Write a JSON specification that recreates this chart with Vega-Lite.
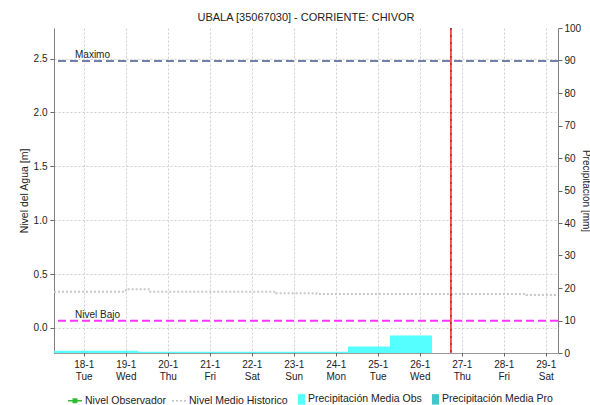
{
  "$schema": "https://vega.github.io/schema/vega-lite/v6.json",
  "width": 504,
  "height": 325,
  "autosize": {"type": "none"},
  "padding": {"left": 54, "top": 28, "right": 32, "bottom": 52},
  "background": "white",
  "title": {"text": "UBALA [35067030] - CORRIENTE: CHIVOR", "fontSize": 11, "fontWeight": "normal", "font": "Liberation Sans", "color": "#222", "offset": 0, "anchor": "middle"},
  "config": {
    "view": {"stroke": null},
    "font": "Liberation Sans",
    "axis": {"labelFont": "Liberation Sans", "titleFont": "Liberation Sans", "labelColor": "#222", "titleColor": "#222", "labelFontSize": 10, "titleFontSize": 10.5, "titleFontWeight": "normal", "gridColor": "#cfcfcf", "gridDash": [2, 2], "gridWidth": 1, "tickColor": "#666", "domainColor": "#808080", "tickSize": 4}
  },
  "datasets": {
    "precip": [
      {"inicio": "2022-01-17T07:00", "fin": "2022-01-18T07:00", "precip": 0.7, "serie": "Precipitación Media Obs"},
      {"inicio": "2022-01-18T07:00", "fin": "2022-01-19T07:00", "precip": 0.7, "serie": "Precipitación Media Obs"},
      {"inicio": "2022-01-19T07:00", "fin": "2022-01-20T07:00", "precip": 0.4, "serie": "Precipitación Media Obs"},
      {"inicio": "2022-01-20T07:00", "fin": "2022-01-21T07:00", "precip": 0.4, "serie": "Precipitación Media Obs"},
      {"inicio": "2022-01-21T07:00", "fin": "2022-01-22T07:00", "precip": 0.4, "serie": "Precipitación Media Obs"},
      {"inicio": "2022-01-22T07:00", "fin": "2022-01-23T07:00", "precip": 0.4, "serie": "Precipitación Media Obs"},
      {"inicio": "2022-01-23T07:00", "fin": "2022-01-24T07:00", "precip": 0.4, "serie": "Precipitación Media Obs"},
      {"inicio": "2022-01-24T07:00", "fin": "2022-01-25T07:00", "precip": 2.0, "serie": "Precipitación Media Obs"},
      {"inicio": "2022-01-25T07:00", "fin": "2022-01-26T07:00", "precip": 5.4, "serie": "Precipitación Media Obs"}
    ],
    "historico": [
      {"fecha": "2022-01-17T07:00", "nivel": 0.337},
      {"fecha": "2022-01-19T00:00", "nivel": 0.359},
      {"fecha": "2022-01-19T14:00", "nivel": 0.337},
      {"fecha": "2022-01-22T14:00", "nivel": 0.322},
      {"fecha": "2022-01-23T13:00", "nivel": 0.315},
      {"fecha": "2022-01-28T13:00", "nivel": 0.306},
      {"fecha": "2022-01-29T07:00", "nivel": 0.306}
    ],
    "umbrales": [
      {"nombre": "Maximo", "fecha": "2022-01-17T19:00", "nivel": 2.477},
      {"nombre": "Nivel Bajo", "fecha": "2022-01-17T19:00", "nivel": 0.068}
    ],
    "ahora": [
      {"fecha": "2022-01-26T17:50"}
    ]
  },
  "resolve": {"scale": {"y": "independent"}},
  "layer": [
    {
      "data": {"name": "precip"},
      "mark": {"type": "rect"},
      "encoding": {
        "x": {
          "field": "inicio", "type": "temporal",
          "scale": {"domain": [{"year": 2022, "month": 1, "date": 17, "hours": 7}, {"year": 2022, "month": 1, "date": 29, "hours": 7}], "nice": false},
          "axis": {
            "title": null,
            "values": [
              {"year": 2022, "month": 1, "date": 18}, {"year": 2022, "month": 1, "date": 19}, {"year": 2022, "month": 1, "date": 20},
              {"year": 2022, "month": 1, "date": 21}, {"year": 2022, "month": 1, "date": 22}, {"year": 2022, "month": 1, "date": 23},
              {"year": 2022, "month": 1, "date": 24}, {"year": 2022, "month": 1, "date": 25}, {"year": 2022, "month": 1, "date": 26},
              {"year": 2022, "month": 1, "date": 27}, {"year": 2022, "month": 1, "date": 28}, {"year": 2022, "month": 1, "date": 29}
            ],
            "labelExpr": "[timeFormat(datum.value, '%-d-%-m'), timeFormat(datum.value, '%a')]",
            "labelLineHeight": 12,
            "labelPadding": 3,
            "tickSize": 3,
            "domainColor": "#333",
            "domainDash": [1, 1],
            "grid": true
          }
        },
        "x2": {"field": "fin"},
        "y": {
          "field": "precip", "type": "quantitative",
          "scale": {"domain": [0, 100], "nice": false},
          "axis": {"orient": "right", "title": "Precipitación [mm]", "titleAngle": 90, "titlePadding": 0, "titleFontSize": 10, "values": [0, 10, 20, 30, 40, 50, 60, 70, 80, 90, 100], "grid": false, "labelPadding": 2, "domainColor": "#808080"}
        },
        "y2": {"datum": 0},
        "color": {
          "field": "serie", "type": "nominal",
          "scale": {"domain": ["Nivel Observador", "Nivel Medio Historico", "Precipitación Media Obs", "Precipitación Media Pro"], "range": ["#33bb33", "#c0c0c0", "#55ffff", "#40c8c8"]},
          "legend": {
            "title": null,
            "orient": "none",
            "direction": "horizontal",
            "legendX": 13,
            "legendY": 363,
            "padding": 0,
            "columnPadding": 2,
            "symbolSize": 196,
            "symbolOpacity": 1,
            "labelFont": "Liberation Sans",
            "labelFontSize": 10.5,
            "labelColor": "#222",
            "labelOffset": 2,
            "encode": {
              "symbols": {
                "update": {
                  "shape": {"signal": "datum.value === 'Nivel Observador' ? 'M-1,0H1M-0.25,-0.25H0.25V0.25H-0.25Z' : datum.value === 'Nivel Medio Historico' ? 'M-1,0H1' : 'M0,-0.75H1V0.75H0Z'"},
                  "stroke": {"signal": "datum.value === 'Nivel Observador' ? '#33bb33' : datum.value === 'Nivel Medio Historico' ? '#c0c0c0' : 'transparent'"},
                  "fill": {"signal": "datum.value === 'Nivel Observador' ? '#33bb33' : datum.value === 'Nivel Medio Historico' ? 'transparent' : datum.value === 'Precipitación Media Obs' ? '#55ffff' : '#40c8c8'"},
                  "strokeDash": {"signal": "datum.value === 'Nivel Medio Historico' ? [2, 2] : [1, 0]"},
                  "strokeWidth": {"value": 1.5}
                }
              }
            }
          }
        }
      }
    },
    {
      "layer": [
        {
          "data": {"name": "historico"},
          "mark": {"type": "line", "interpolate": "step-after", "color": "#c8c8c8", "strokeWidth": 2, "strokeDash": [2, 2]},
          "encoding": {
            "x": {"field": "fecha", "type": "temporal"},
            "y": {
              "field": "nivel", "type": "quantitative",
              "scale": {"domain": [-0.232, 2.783], "nice": false, "zero": false},
              "axis": {"title": "Nivel del Agua [m]", "values": [0, 0.5, 1, 1.5, 2, 2.5], "format": ".1f", "labelPadding": 3, "titlePadding": 4, "grid": true}
            }
          }
        },
        {
          "data": {"name": "umbrales"},
          "transform": [{"filter": "datum.nombre === 'Maximo'"}],
          "mark": {"type": "rule", "color": "#7080aa", "strokeWidth": 2, "strokeDash": [8, 4]},
          "encoding": {"y": {"field": "nivel", "type": "quantitative"}}
        },
        {
          "data": {"name": "umbrales"},
          "transform": [{"filter": "datum.nombre === 'Nivel Bajo'"}],
          "mark": {"type": "rule", "color": "#ff33ff", "strokeWidth": 2, "strokeDash": [8, 4]},
          "encoding": {"y": {"field": "nivel", "type": "quantitative"}}
        },
        {
          "data": {"name": "umbrales"},
          "mark": {"type": "text", "align": "left", "baseline": "alphabetic", "dy": -3, "fontSize": 10, "font": "Liberation Sans", "color": "#222"},
          "encoding": {
            "x": {"field": "fecha", "type": "temporal"},
            "y": {"field": "nivel", "type": "quantitative"},
            "text": {"field": "nombre"}
          }
        },
        {
          "data": {"name": "ahora"},
          "mark": {"type": "rule", "color": "#f02020", "strokeWidth": 1.5},
          "encoding": {"x": {"field": "fecha", "type": "temporal"}}
        },
        {
          "data": {"name": "ahora"},
          "mark": {"type": "rule", "color": "#400000", "strokeWidth": 1, "strokeDash": [2, 5], "opacity": 0.6},
          "encoding": {"x": {"field": "fecha", "type": "temporal"}}
        }
      ]
    }
  ]
}
